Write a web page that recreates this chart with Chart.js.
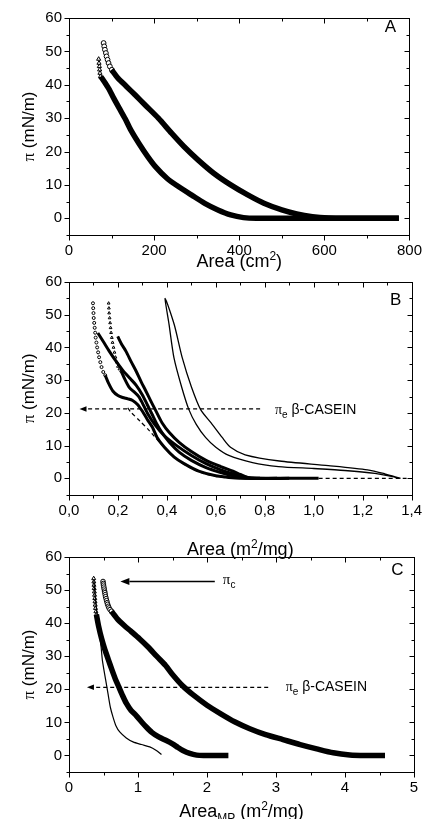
<!DOCTYPE html>
<html>
<head>
<meta charset="utf-8">
<script src="https://cdn.jsdelivr.net/npm/chart.js@4.4.1/dist/chart.umd.min.js"></script>
<style>
html, body { margin: 0; padding: 0; background: #fff; }
body { width: 429px; height: 819px; position: relative; overflow: hidden; }
canvas { position: absolute; left: 0; }
</style>
</head>
<body>
<canvas id="chartA" width="429" height="272" style="top:0px"></canvas>
<canvas id="chartB" width="429" height="296" style="top:266px"></canvas>
<canvas id="chartC" width="429" height="278" style="top:541px"></canvas>
<script>
// ---- panel A : area in cm2 ----
const aUpperOpenX = [81.3, 82.8, 84.4, 86.7, 88.2, 90.6, 92.9, 96, 100.6];
const aUpperOpenY = [52.5, 51.5, 50.5, 49.5, 48.5, 47.5, 46.5, 45.5, 44.5];
const aUpperX = [100, 115, 135, 155, 180, 210, 241, 270, 303, 340, 380, 420, 458, 500, 535, 572, 610, 650, 775];
const aUpperY = [44.5, 42, 39.5, 37, 33.8, 30, 25.5, 21.5, 17.5, 13.5, 10, 7, 4.5, 2.5, 1.3, 0.5, 0.1, 0, 0];
const aLowerOpenX = [69.7, 70.5, 71.3, 72, 72.8, 74];
const aLowerOpenY = [47.7, 46.5, 45.5, 44.5, 43.5, 42.5];
const aLowerX = [74.5, 85, 95, 105, 118, 132, 145, 164, 185, 203, 230, 257, 290, 319, 350, 380, 410, 440, 775];
const aLowerY = [42.5, 40.5, 38.5, 36, 33, 29.8, 26.5, 22.5, 18.5, 15.5, 12, 9.5, 6.8, 4.5, 2.5, 1, 0.2, 0, 0];
const aXTicks = [0, 200, 400, 600, 800];
const aXLabels = ['0', '200', '400', '600', '800'];

// ---- panel B : area in m2/mg ----
const bMark1X = [0.098, 0.099, 0.1, 0.101, 0.103, 0.105, 0.107, 0.109, 0.112, 0.115, 0.119, 0.123, 0.128, 0.133, 0.14, 0.148];
const bMark1Y = [53.5, 52, 50.5, 49, 47.5, 46, 44.5, 43, 41.5, 40, 38.5, 37, 35.5, 34, 32.5, 31.5];
const bCurve1X = [0.148, 0.162, 0.179, 0.2, 0.219, 0.24, 0.26, 0.28, 0.3, 0.32, 0.341, 0.36, 0.39, 0.43, 0.47, 0.53, 0.6, 0.68, 0.72, 1.02];
const bCurve1Y = [31.5, 29, 26.7, 25.3, 24.7, 24.3, 23.8, 22.6, 20.5, 18, 15.6, 12.5, 9.5, 6.5, 4.5, 2.2, 0.8, 0.1, 0, 0];
const bMark2X = [0.162, 0.163, 0.164, 0.166, 0.168, 0.17, 0.172, 0.175, 0.178, 0.182, 0.186, 0.19, 0.195, 0.2, 0.206, 0.213];
const bMark2Y = [53.5, 52, 50.5, 49, 47.5, 46, 44.5, 43, 41.5, 40, 38.5, 37, 35.5, 34.2, 33.4, 32.8];
const bCurve2X = [0.213, 0.23, 0.247, 0.265, 0.285, 0.3, 0.32, 0.35, 0.39, 0.44, 0.5, 0.56, 0.62, 0.67, 0.72, 0.76, 0.9];
const bCurve2Y = [32.8, 30, 27.7, 26.5, 25, 23, 20, 16.5, 13, 10, 7, 4.5, 2.6, 1.4, 0.4, 0, 0];
const bCurve3X = [0.118, 0.14, 0.165, 0.192, 0.22, 0.25, 0.274, 0.3, 0.32, 0.34, 0.36, 0.38, 0.41, 0.45, 0.5, 0.56, 0.62, 0.68, 0.72, 0.85];
const bCurve3Y = [44.4, 41.8, 38.8, 35.8, 33, 30.5, 28.5, 25.5, 22.5, 19.5, 16.5, 14, 11, 8, 5.5, 3.3, 1.8, 0.6, 0, 0];
const bCurve4X = [0.199, 0.215, 0.233, 0.255, 0.274, 0.295, 0.314, 0.335, 0.355, 0.38, 0.41, 0.45, 0.5, 0.56, 0.62, 0.67, 0.7, 0.73, 0.78];
const bCurve4Y = [43.4, 41, 38.8, 35.5, 32.8, 29.5, 26.7, 23.5, 20.6, 17, 14, 11, 8.2, 5.5, 3.6, 2.2, 1.2, 0.3, 0];
const bLoopX = [1.355, 1.29, 1.22, 1.06, 0.86, 0.72, 0.66, 0.626, 0.58, 0.538, 0.5, 0.463, 0.43, 0.393,
                0.409, 0.429, 0.46, 0.49, 0.52, 0.558, 0.6, 0.653, 0.75, 0.856, 1.0, 1.127, 1.25, 1.33, 1.35];
const bLoopY = [0, 1.4, 2.6, 3.9, 5.3, 7.2, 9.5, 12.5, 17, 21, 28, 36.8, 47, 55,
                47, 36.8, 28, 21, 16.5, 12.5, 9.5, 7, 4.8, 3.6, 3.0, 2.4, 1.5, 0.4, 0];
const bCaseinX = [0.24, 0.253, 0.29, 0.328, 0.37, 0.41, 0.45, 0.5, 0.545, 0.6, 0.65, 0.7, 1.38];
const bCaseinY = [21.5, 20.2, 17.5, 14.6, 11, 8, 5.3, 3, 1.6, 0.6, 0.1, 0, 0];
const bArrowX = [0.781, 0.043];
const bArrowY = [21.2, 21.2];
const bXTicks = [0, 0.2, 0.4, 0.6, 0.8, 1.0, 1.2, 1.4];
const bXLabels = ['0,0', '0,2', '0,4', '0,6', '0,8', '1,0', '1,2', '1,4'];

// ---- panel C : area per mg of MP ----
const cOpenX = [0.493, 0.497, 0.5, 0.505, 0.51, 0.515, 0.52, 0.525, 0.53, 0.538, 0.545, 0.553, 0.56, 0.57, 0.58, 0.595, 0.615];
const cOpenY = [52.6, 52, 51.5, 50.9, 50.3, 49.7, 49.2, 48.6, 48, 47.4, 46.8, 46.2, 45.7, 45.1, 44.6, 44.1, 43.6];
const cUpperX = [0.615, 0.7, 0.8, 0.9, 1.025, 1.15, 1.27, 1.4, 1.5, 1.65, 1.8, 2.0, 2.2, 2.4, 2.62, 2.85, 3.1, 3.35, 3.59, 3.83, 4.07, 4.3, 4.58];
const cUpperY = [43.6, 41.3, 39.3, 37.5, 35.2, 32.7, 30, 27.2, 24.5, 21, 18.3, 15.2, 12.6, 10.2, 8.1, 6.3, 4.8, 3.3, 2.0, 0.8, 0.15, 0, 0];
const cTriX = [0.358, 0.36, 0.362, 0.365, 0.368, 0.371, 0.374, 0.377, 0.38, 0.384, 0.39, 0.397];
const cTriY = [53.5, 52.5, 51.5, 50.5, 49.5, 48.5, 47.5, 46.5, 45.5, 44.5, 43.5, 42.6];
const cMiddleX = [0.397, 0.43, 0.47, 0.52, 0.57, 0.62, 0.67, 0.72, 0.77, 0.83, 0.9, 0.977, 1.05, 1.12, 1.2, 1.3, 1.41, 1.5, 1.58, 1.65, 1.75, 1.85, 1.95, 2.31];
const cMiddleY = [42.6, 39, 35.5, 32, 29, 26, 23.2, 20.8, 18.4, 15.8, 13.6, 12, 10.2, 8.6, 7, 5.6, 4.5, 3.5, 2.4, 1.5, 0.6, 0.1, 0, 0];
const cThinX = [0.36, 0.38, 0.41, 0.44, 0.465, 0.485, 0.53, 0.566, 0.6, 0.638, 0.68, 0.735, 0.83, 0.928, 1.05, 1.17, 1.26, 1.34];
const cThinY = [53, 48, 42, 37, 32.8, 28.6, 23, 18.6, 14.5, 11.6, 9, 7.1, 5.3, 4.1, 3.3, 2.6, 1.6, 0.3];
const cArrowPcX = [2.113, 0.745];
const cArrowPcY = [52.6, 52.6];
const cArrowPeX = [2.887, 0.26];
const cArrowPeY = [20.6, 20.6];
const cXTicks = [0, 1, 2, 3, 4, 5];
const cXLabels = ['0', '1', '2', '3', '4', '5'];

const yTicks = [0, 10, 20, 30, 40, 50, 60];
const yLabels = ['0', '10', '20', '30', '40', '50', '60'];

const FONT = "'Liberation Sans', Arial, sans-serif";
const SERIF = "'Liberation Serif', 'Times New Roman', serif";

function pts(xs, ys) {
  return xs.map((x, i) => ({ x: x, y: ys[i] }));
}

function lineSet(xs, ys, w, dash) {
  return {
    data: pts(xs, ys), showLine: true, borderColor: '#000', borderWidth: w,
    borderDash: dash || [], pointRadius: 0, tension: 0.25, fill: false
  };
}

function markSet(xs, ys, style, r) {
  return {
    data: pts(xs, ys), showLine: false, pointStyle: style, pointRadius: r,
    pointBorderWidth: 1, pointBorderColor: '#000', pointBackgroundColor: '#fff'
  };
}

function fontFor(p, size) {
  const small = (p[1] === 'sup' || p[1] === 'sub');
  const s = small ? Math.round(size * 0.68) : size;
  return s + 'px ' + (p[1] === 'sym' ? SERIF : FONT);
}

// parts: [text, kind] with kind n / sup / sub / sym
function drawRich(ctx, parts, x, y, size, align) {
  let w = 0;
  parts.forEach(p => { ctx.font = fontFor(p, size); w += ctx.measureText(p[0]).width; });
  let cx = align === 'center' ? x - w / 2 : (align === 'right' ? x - w : x);
  ctx.textAlign = 'left';
  ctx.textBaseline = 'alphabetic';
  parts.forEach(p => {
    ctx.font = fontFor(p, size);
    let dy = 0;
    if (p[1] === 'sup') dy = -size * 0.4;
    if (p[1] === 'sub') dy = size * 0.28;
    ctx.fillText(p[0], cx, y + dy);
    cx += ctx.measureText(p[0]).width;
  });
}

function seg(ctx, x1, y1, x2, y2) {
  ctx.beginPath();
  ctx.moveTo(x1, y1);
  ctx.lineTo(x2, y2);
  ctx.stroke();
}

const deco = {
  id: 'deco',
  afterDatasetsDraw(chart, args, o) {
    const ctx = chart.ctx, a = chart.chartArea;
    const sx = chart.scales.x, sy = chart.scales.y;
    ctx.save();
    ctx.fillStyle = '#000';
    ctx.strokeStyle = '#000';

    // arrows
    (o.arrows || []).forEach(ar => {
      const x1 = sx.getPixelForValue(ar.xs[0]), y1 = sy.getPixelForValue(ar.ys[0]);
      const x2 = sx.getPixelForValue(ar.xs[1]), y2 = sy.getPixelForValue(ar.ys[1]);
      ctx.lineWidth = ar.width;
      ctx.setLineDash(ar.dash);
      seg(ctx, x1, y1, x2 + ar.head, y2);
      ctx.setLineDash([]);
      ctx.beginPath();
      ctx.moveTo(x2, y2);
      ctx.lineTo(x2 + ar.head, y2 - ar.head * 0.4);
      ctx.lineTo(x2 + ar.head, y2 + ar.head * 0.4);
      ctx.closePath();
      ctx.fill();
    });

    // frame
    ctx.lineWidth = 1;
    const L = Math.round(a.left) + 0.5, R = Math.round(a.right) + 0.5;
    const T = Math.round(a.top) + 0.5, B = Math.round(a.bottom) + 0.5;
    ctx.strokeRect(L, T, R - L, B - T);

    // tick marks: out on bottom/left, in on top/right
    for (let v = sx.min; v <= sx.max + 1e-9; v += o.xMinor) {
      const major = o.xTicks.some(t => Math.abs(t - v) < 1e-6);
      const len = major ? 5 : 3;
      const px = Math.round(sx.getPixelForValue(v)) + 0.5;
      seg(ctx, px, B, px, B + len);
      seg(ctx, px, T, px, T + len);
    }
    for (let v = sy.min; v <= sy.max + 1e-9; v += o.yMinor) {
      const major = yTicks.some(t => Math.abs(t - v) < 1e-6);
      const len = major ? 5 : 3;
      const py = Math.round(sy.getPixelForValue(v)) + 0.5;
      seg(ctx, L, py, L - len, py);
      seg(ctx, R, py, R - len, py);
    }

    // x axis title
    drawRich(ctx, o.xTitle, (a.left + a.right) / 2, a.bottom + o.xTitleDy, 18, 'center');

    // y axis title
    ctx.save();
    ctx.translate(28, (a.top + a.bottom) / 2);
    ctx.rotate(-Math.PI / 2);
    drawRich(ctx, [['\u03c0', 'sym'], [' (mN/m)', 'n']], 0, 6, 17, 'center');
    ctx.restore();

    // panel letter and notes
    (o.texts || []).forEach(t => {
      drawRich(ctx, t.parts, sx.getPixelForValue(t.x), sy.getPixelForValue(t.y), t.size, t.align);
    });
    ctx.restore();
  }
};

function makeChart(id, cfg) {
  return new Chart(document.getElementById(id), {
    type: 'scatter',
    data: { datasets: cfg.datasets },
    options: {
      responsive: false,
      animation: false,
      events: [],
      layout: { padding: { top: cfg.top, right: 15, left: 0, bottom: 0 } },
      plugins: { legend: { display: false }, tooltip: { enabled: false }, deco: cfg.deco },
      scales: {
        x: {
          type: 'linear', min: cfg.xMin, max: cfg.xMax,
          grid: { display: false, drawTicks: false }, border: { display: false },
          afterBuildTicks: s => { s.ticks = cfg.xTicks.map(v => ({ value: v })); },
          afterFit: s => { s.height = cfg.xHeight; },
          ticks: {
            color: '#000', font: { family: FONT, size: 15 }, padding: 7,
            maxRotation: 0, autoSkip: false, callback: (v, i) => cfg.xLabels[i]
          }
        },
        y: {
          type: 'linear', min: -5, max: 60,
          grid: { display: false, drawTicks: false }, border: { display: false },
          afterBuildTicks: s => { s.ticks = yTicks.map(v => ({ value: v })); },
          afterFit: s => { s.width = 69; },
          ticks: {
            color: '#000', font: { family: FONT, size: 15 }, padding: 7,
            autoSkip: false, callback: (v, i) => yLabels[i]
          }
        }
      }
    },
    plugins: [deco]
  });
}

makeChart('chartA', {
  top: 18, xHeight: 37, xMin: 0, xMax: 800, xTicks: aXTicks, xLabels: aXLabels,
  datasets: [
    lineSet(aUpperX, aUpperY, 5.5),
    lineSet(aLowerX, aLowerY, 5.5),
    markSet(aUpperOpenX, aUpperOpenY, 'circle', 2.4),
    markSet(aLowerOpenX, aLowerOpenY, 'triangle', 2.4)
  ],
  deco: {
    xTicks: aXTicks, xMinor: 100, yMinor: 5, xTitleDy: 32,
    xTitle: [['Area (cm', 'n'], ['2', 'sup'], [')', 'n']],
    texts: [{ parts: [['A', 'n']], x: 755, y: 55.8, size: 17, align: 'center' }]
  }
});

makeChart('chartB', {
  top: 14.3, xHeight: 67.3, xMin: 0, xMax: 1.4, xTicks: bXTicks, xLabels: bXLabels,
  datasets: [
    lineSet(bCaseinX, bCaseinY, 1.2, [4, 3]),
    lineSet(bLoopX, bLoopY, 1.3),
    lineSet(bCurve1X, bCurve1Y, 3),
    lineSet(bCurve2X, bCurve2Y, 3),
    lineSet(bCurve3X, bCurve3Y, 3),
    lineSet(bCurve4X, bCurve4Y, 3),
    markSet(bMark1X, bMark1Y, 'circle', 1.5),
    markSet(bMark2X, bMark2Y, 'triangle', 1.6)
  ],
  deco: {
    xTicks: bXTicks, xMinor: 0.1, yMinor: 5, xTitleDy: 60,
    xTitle: [['Area (m', 'n'], ['2', 'sup'], ['/mg)', 'n']],
    arrows: [{ xs: bArrowX, ys: bArrowY, width: 1.2, dash: [4, 3], head: 7 }],
    texts: [
      { parts: [['B', 'n']], x: 1.335, y: 53, size: 17, align: 'center' },
      { parts: [['\u03c0', 'sym'], ['e', 'sub'], [' \u03b2-CASEIN', 'n']], x: 0.842, y: 19.6, size: 14, align: 'left' }
    ]
  }
});

makeChart('chartC', {
  top: 14.3, xHeight: 47, xMin: 0, xMax: 5, xTicks: cXTicks, xLabels: cXLabels,
  datasets: [
    lineSet(cThinX, cThinY, 1.2),
    lineSet(cUpperX, cUpperY, 5.5),
    lineSet(cMiddleX, cMiddleY, 5.5),
    markSet(cOpenX, cOpenY, 'circle', 2.3),
    markSet(cTriX, cTriY, 'triangle', 2.3)
  ],
  deco: {
    xTicks: cXTicks, xMinor: 0.5, yMinor: 5, xTitleDy: 45,
    xTitle: [['Area', 'n'], ['MP', 'sub'], [' (m', 'n'], ['2', 'sup'], ['/mg)', 'n']],
    arrows: [
      { xs: cArrowPcX, ys: cArrowPcY, width: 1.5, dash: [], head: 9 },
      { xs: cArrowPeX, ys: cArrowPeY, width: 1.2, dash: [4, 3], head: 7 }
    ],
    texts: [
      { parts: [['C', 'n']], x: 4.76, y: 54.6, size: 17, align: 'center' },
      { parts: [['\u03c0', 'sym'], ['c', 'sub']], x: 2.23, y: 51.8, size: 15, align: 'left' },
      { parts: [['\u03c0', 'sym'], ['e', 'sub'], [' \u03b2-CASEIN', 'n']], x: 3.14, y: 19.4, size: 14, align: 'left' }
    ]
  }
});
</script>
</body>
</html>
